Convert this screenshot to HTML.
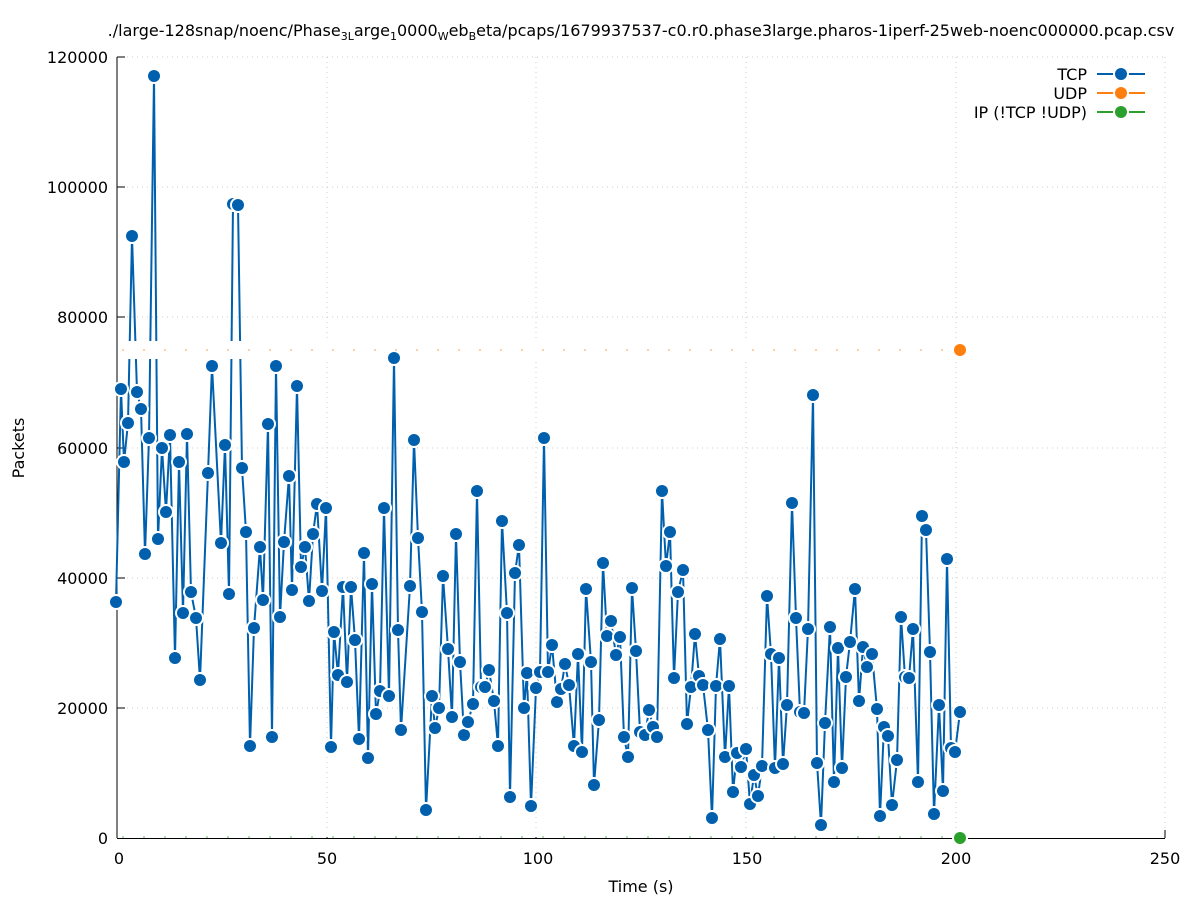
<!DOCTYPE html>
<html><head><meta charset="utf-8"><style>body{margin:0;background:#fff}svg{display:block;font-family:"DejaVu Sans","Liberation Sans",sans-serif}</style></head>
<body>
<svg id="s" width="1197" height="900" xmlns="http://www.w3.org/2000/svg">
<g stroke="#ccc" stroke-dasharray="1 4" stroke-width="1">
<line x1="117" y1="57" x2="1165" y2="57"/><line x1="117" y1="187" x2="1165" y2="187"/><line x1="117" y1="317" x2="1165" y2="317"/><line x1="117" y1="448" x2="1165" y2="448"/><line x1="117" y1="578" x2="1165" y2="578"/><line x1="117" y1="708" x2="1165" y2="708"/>
<line x1="327" y1="57" x2="327" y2="838"/><line x1="536" y1="57" x2="536" y2="838"/><line x1="746" y1="57" x2="746" y2="838"/><line x1="956" y1="57" x2="956" y2="838"/><line x1="1165" y1="57" x2="1165" y2="838"/>
</g>
<g stroke="#000" stroke-width="1">
<line x1="117" y1="57" x2="117" y2="838"/><line x1="117" y1="838.5" x2="1165" y2="838.5"/>
<line x1="117" y1="57" x2="125" y2="57"/><line x1="117" y1="187" x2="125" y2="187"/><line x1="117" y1="317" x2="125" y2="317"/><line x1="117" y1="448" x2="125" y2="448"/><line x1="117" y1="578" x2="125" y2="578"/><line x1="117" y1="708" x2="125" y2="708"/>
<line x1="327" y1="838" x2="327" y2="830"/><line x1="536" y1="838" x2="536" y2="830"/><line x1="746" y1="838" x2="746" y2="830"/><line x1="956" y1="838" x2="956" y2="830"/><line x1="1165" y1="838" x2="1165" y2="830"/>
</g>
<g font-size="16" fill="#000" text-anchor="end">
<text x="108" y="63">120000</text><text x="108" y="193">100000</text><text x="108" y="323">80000</text><text x="108" y="454">60000</text><text x="108" y="584">40000</text><text x="108" y="714">20000</text><text x="108" y="844">0</text>
</g>
<g font-size="16" fill="#000" text-anchor="middle">
<text x="119" y="864">0</text><text x="327" y="864">50</text><text x="538" y="864">100</text><text x="747" y="864">150</text><text x="956" y="864">200</text><text x="1165" y="864">250</text>
<text x="641" y="892">Time (s)</text>
<text transform="translate(24,448) rotate(-90)">Packets</text>
<text x="641" y="36">./large-128snap/noenc/Phase<tspan font-size="11" dy="4">3L</tspan><tspan dy="-4">arge</tspan><tspan font-size="11" dy="4">1</tspan><tspan dy="-4">0000</tspan><tspan font-size="11" dy="4">W</tspan><tspan dy="-4">eb</tspan><tspan font-size="11" dy="4">B</tspan><tspan dy="-4">eta/pcaps/1679937537-c0.r0.phase3large.pharos-1iperf-25web-noenc000000.pcap.csv</tspan></text>
</g>
<g font-size="16" fill="#000" text-anchor="end">
<text x="1087" y="80">TCP</text><text x="1087" y="99">UDP</text><text x="1087" y="118">IP (!TCP  !UDP)</text>
</g>
<g stroke-width="2">
<line x1="1097" y1="74" x2="1145" y2="74" stroke="#0060ad"/>
<line x1="1097" y1="93" x2="1145" y2="93" stroke="#ff7f0e"/>
<line x1="1097" y1="112" x2="1145" y2="112" stroke="#2ca02c"/>
</g>
<circle cx="1121" cy="74" r="8" fill="#fff"/><circle cx="1121" cy="74" r="6" fill="#0060ad"/>
<circle cx="1121" cy="93" r="8" fill="#fff"/><circle cx="1121" cy="93" r="6" fill="#ff7f0e"/>
<circle cx="1121" cy="112" r="8" fill="#fff"/><circle cx="1121" cy="112" r="6" fill="#2ca02c"/>
<g id="d"></g>
</svg>
<script>
var P=[[116,602],[121,389],[124,462],[128,423],[132,236],[137,392],[141,409],[145,554],[149,438],[154,76],[158,539],[162,448],[166,512],[170,435],[175,658],[179,462],[183,613],[187,434],[191,592],[196,618],[200,680],[208,473],[212,366],[221,543],[225,445],[229,594],[233,204],[238,205],[242,468],[246,532],[250,746],[254,628],[260,547],[263,600],[268,424],[272,737],[276,366],[280,617],[284,542],[289,476],[292,590],[297,386],[301,567],[305,547],[309,601],[313,534],[317,504],[322,591],[326,508],[331,747],[334,632],[338,675],[343,587],[347,682],[351,587],[355,640],[359,739],[364,553],[368,758],[372,584],[376,714],[380,691],[384,508],[389,696],[394,358],[398,630],[401,730],[410,586],[414,440],[418,538],[422,612],[426,810],[432,696],[435,728],[439,708],[443,576],[448,649],[452,717],[456,534],[460,662],[464,735],[468,722],[473,704],[477,491],[481,687],[485,687],[489,670],[494,701],[498,746],[502,521],[507,613],[510,797],[515,573],[519,545],[524,708],[527,673],[531,806],[536,688],[540,672],[544,438],[548,672],[552,645],[557,702],[561,689],[565,664],[569,685],[574,746],[578,654],[582,752],[586,589],[591,662],[594,785],[599,720],[603,563],[607,636],[611,621],[616,655],[620,637],[624,737],[628,757],[632,588],[636,651],[640,732],[645,735],[649,710],[653,727],[657,737],[662,491],[666,566],[670,532],[674,678],[678,592],[683,570],[687,724],[691,687],[695,634],[699,676],[703,685],[708,730],[712,818],[716,686],[720,639],[725,757],[729,686],[733,792],[737,753],[741,767],[746,749],[750,804],[754,775],[758,796],[762,766],[767,596],[771,654],[775,768],[779,658],[783,764],[787,705],[792,503],[796,618],[800,712],[804,713],[808,629],[813,395],[817,763],[821,825],[825,723],[830,627],[834,782],[838,648],[842,768],[846,677],[850,642],[855,589],[859,701],[863,647],[867,667],[872,654],[877,709],[880,816],[884,727],[888,736],[892,805],[897,760],[901,617],[905,677],[909,678],[913,629],[918,782],[922,516],[926,530],[930,652],[934,814],[939,705],[943,791],[947,559],[951,748],[955,752],[960,712]];
var ns="http://www.w3.org/2000/svg",g=document.getElementById('d');
function el(t,a){var e=document.createElementNS(ns,t);for(var k in a)e.setAttribute(k,a[k]);g.appendChild(e);return e;}
el('polyline',{points:P.map(function(p){return p.join(',')}).join(' '),fill:'none',stroke:'#0060ad','stroke-width':2});
el('rect',{x:118,y:341,width:842,height:18,fill:'#fff'});
el('rect',{x:118,y:829,width:842,height:8,fill:'#fff'});
P.forEach(function(p){el('circle',{cx:p[0],cy:p[1],r:8,fill:'#fff'});el('circle',{cx:p[0],cy:p[1],r:6,fill:'#0060ad'});});
el('line',{x1:122,y1:350,x2:955,y2:350,stroke:'#ff7f0e','stroke-opacity':0.5,'stroke-width':1.5,'stroke-dasharray':'2 19'});
el('line',{x1:122,y1:837,x2:955,y2:837,stroke:'#2ca02c','stroke-opacity':0.5,'stroke-width':1.5,'stroke-dasharray':'2 19'});
el('circle',{cx:960,cy:350,r:8,fill:'#fff'});el('circle',{cx:960,cy:350,r:6,fill:'#ff7f0e'});
el('circle',{cx:960,cy:838,r:8,fill:'#fff'});el('circle',{cx:960,cy:838,r:6,fill:'#2ca02c'});
</script>
</body></html>
